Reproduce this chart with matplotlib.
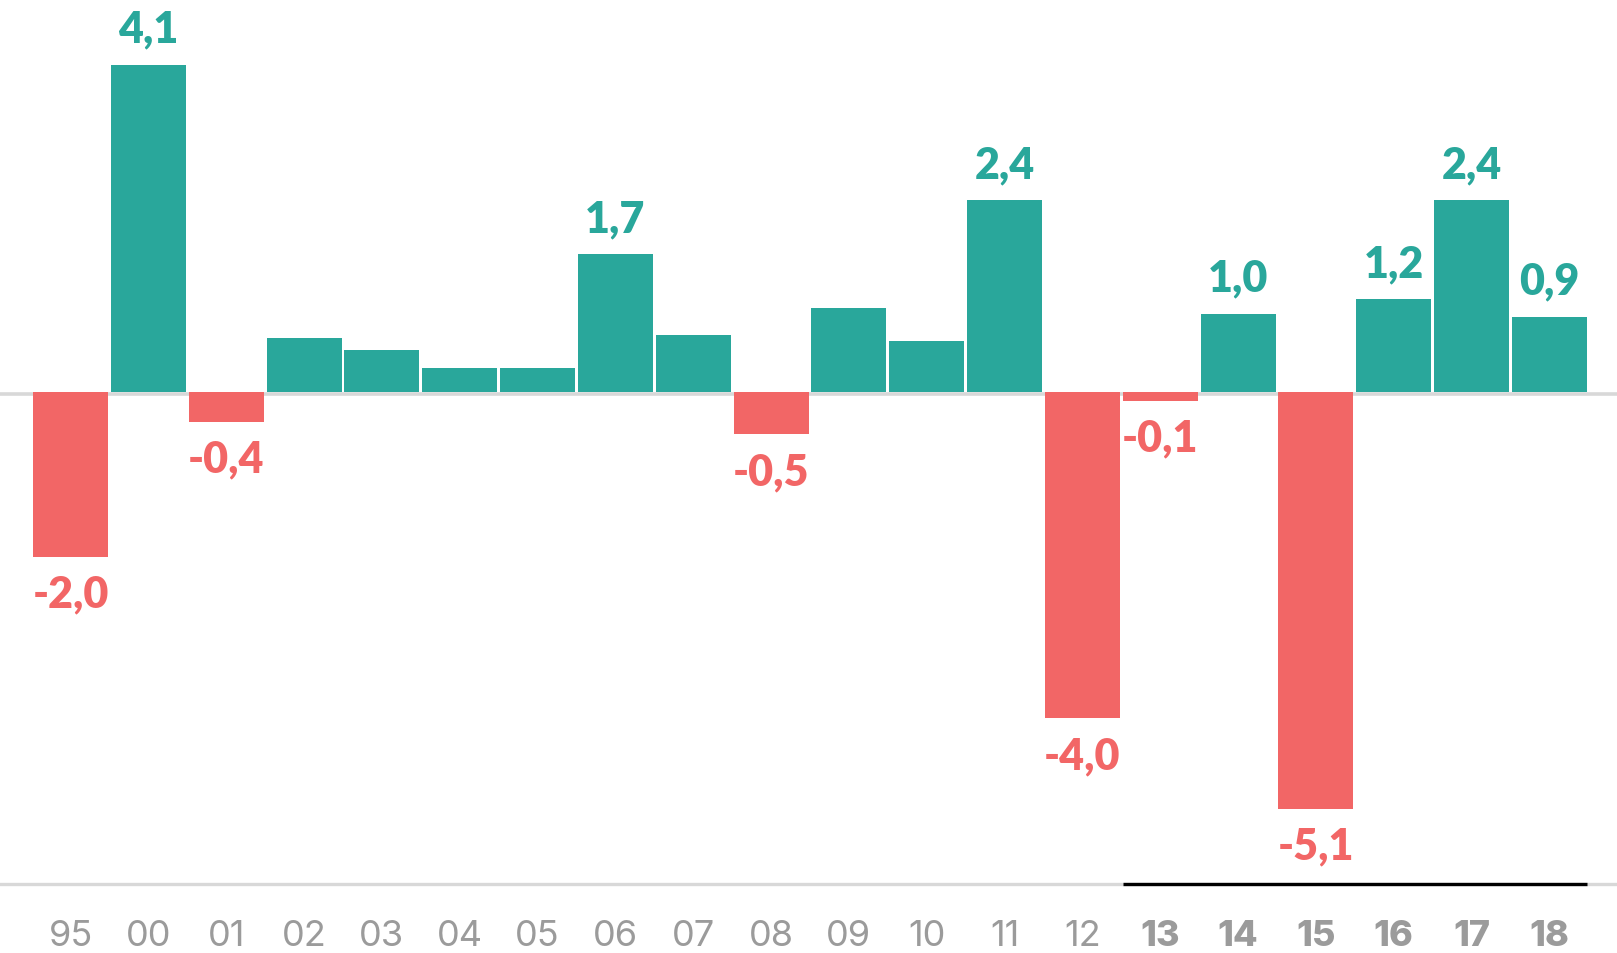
import matplotlib
matplotlib.use("Agg")
import matplotlib.pyplot as plt
from matplotlib import font_manager

years = ["95", "00", "01", "02", "03", "04", "05", "06", "07", "08",
         "09", "10", "11", "12", "13", "14", "15", "16", "17", "18"]
values = [-2.06, 4.09, -0.37, 0.68, 0.53, 0.30, 0.30, 1.72, 0.71, -0.53,
          1.05, 0.64, 2.40, -4.08, -0.11, 0.98, -5.21, 1.16, 2.40, 0.94]
labels = ["-2,0", "4,1", "-0,4", "", "", "", "", "1,7", "", "-0,5",
          "", "", "2,4", "-4,0", "-0,1", "1,0", "-5,1", "1,2", "2,4", "0,9"]
bold_years = ["13", "14", "15", "16", "17", "18"]

TEAL = "#29a79b"
RED = "#f26666"
GRAY_TXT = "#9b9b9b"
GRAY_LINE = "#d8d8d8"

avail = {f.name for f in font_manager.fontManager.ttflist}
VAL_FONT = "Lato" if "Lato" in avail else "DejaVu Sans"
TICK_FONT = "Inter" if "Inter" in avail else VAL_FONT

fig = plt.figure(figsize=(16.17, 9.54), dpi=100)
ax = fig.add_axes([0, 0, 1, 1])
ax.set_xlim(-0.906, 19.868)
ax.set_ylim(-7.0125, 4.9125)
ax.axis("off")

x = list(range(len(years)))
colors = [TEAL if v >= 0 else RED for v in values]
ax.bar(x, values, width=0.9635, color=colors, zorder=3, linewidth=0)

# zero line and bottom axis line
ax.axhline(-0.02, color=GRAY_LINE, lw=2.6, zorder=2)
ax.axhline(-6.15, color=GRAY_LINE, lw=2.4, zorder=2)
i0 = years.index(bold_years[0])
i1 = years.index(bold_years[-1])
ax.plot([i0 - 0.4818, i1 + 0.4818], [-6.15, -6.15], color="black", lw=2.4,
        zorder=3, solid_capstyle="butt")

for xi, v, lab in zip(x, values, labels):
    if not lab:
        continue
    if v >= 0:
        ax.annotate(lab, (xi, v), xytext=(0, 16.5), textcoords="offset points",
                    ha="center", va="baseline", color=TEAL, fontsize=31,
                    fontweight="heavy", family=VAL_FONT)
    else:
        ax.annotate(lab, (xi, v), xytext=(0, -12), textcoords="offset points",
                    ha="center", va="top", color=RED, fontsize=31,
                    fontweight="heavy", family=VAL_FONT)

for xi, yr in zip(x, years):
    bold = yr in bold_years
    ax.text(xi, -6.79, yr, ha="center", va="center", color=GRAY_TXT,
            fontsize=26, fontweight="heavy" if bold else "normal", family=TICK_FONT)

fig.savefig("out.png", dpi=100, facecolor="white")
